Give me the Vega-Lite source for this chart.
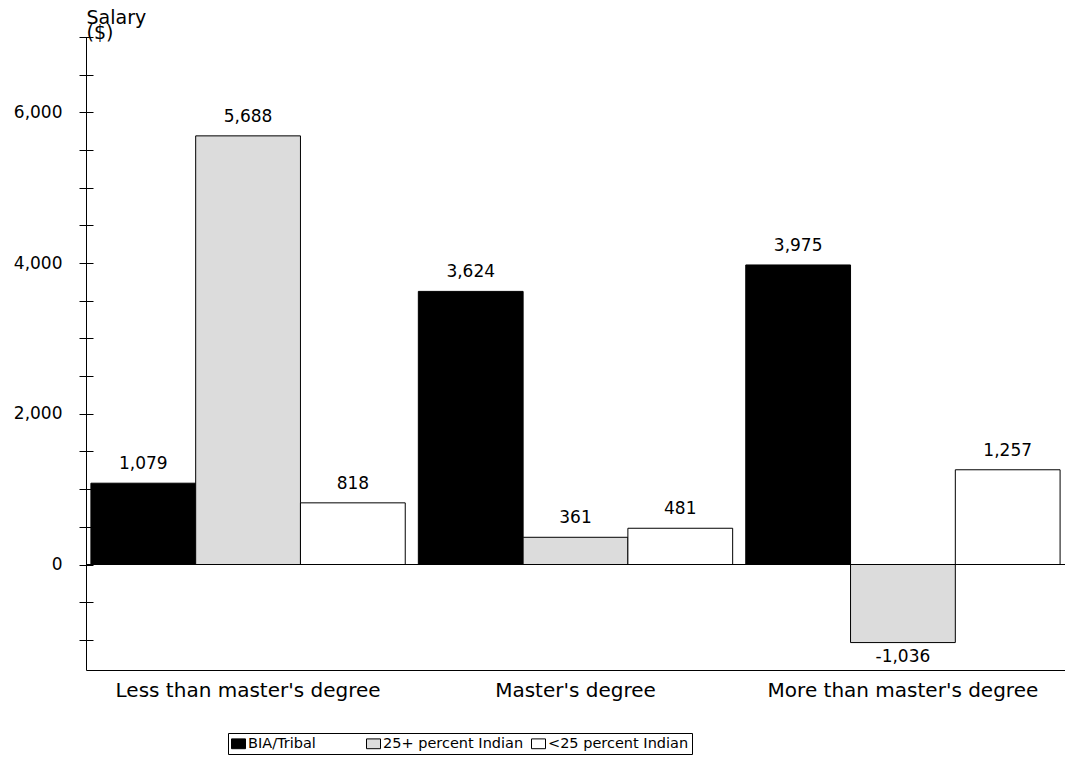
{
  "$schema": "https://vega.github.io/schema/vega-lite/v6.json",
  "width": 979,
  "height": 633,
  "autosize": {"type": "none"},
  "padding": {"left": 86, "top": 37, "right": 0, "bottom": 92},
  "background": "white",
  "config": {
    "view": {"stroke": null},
    "font": "DejaVu Sans",
    "locale": {"number": {"decimal": ".", "thousands": ",", "grouping": [3], "currency": ["$", ""], "minus": "-"}},
    "axis": {"labelColor": "black", "titleColor": "black", "domainColor": "black", "tickColor": "black", "grid": false}
  },
  "data": {
    "values": [
      {"degree": "Less than master's degree", "school": "BIA/Tribal", "value": 1079},
      {"degree": "Less than master's degree", "school": "25+ percent Indian", "value": 5688},
      {"degree": "Less than master's degree", "school": "<25 percent Indian", "value": 818},
      {"degree": "Master's degree", "school": "BIA/Tribal", "value": 3624},
      {"degree": "Master's degree", "school": "25+ percent Indian", "value": 361},
      {"degree": "Master's degree", "school": "<25 percent Indian", "value": 481},
      {"degree": "More than master's degree", "school": "BIA/Tribal", "value": 3975},
      {"degree": "More than master's degree", "school": "25+ percent Indian", "value": -1036},
      {"degree": "More than master's degree", "school": "<25 percent Indian", "value": 1257}
    ]
  },
  "layer": [
    {
      "mark": {"type": "bar", "stroke": "black", "strokeWidth": 1},
      "encoding": {
        "x": {
          "field": "degree", "type": "nominal",
          "sort": ["Less than master's degree", "Master's degree", "More than master's degree"],
          "scale": {"paddingInner": 0.04, "paddingOuter": 0.015},
          "axis": {"title": null, "labelAngle": 0, "ticks": false, "domain": true, "labelFontSize": 20, "labelPadding": 10, "labelLimit": 0}
        },
        "xOffset": {
          "field": "school", "type": "nominal",
          "sort": ["BIA/Tribal", "25+ percent Indian", "<25 percent Indian"],
          "scale": {"paddingInner": 0, "paddingOuter": 0}
        },
        "y": {
          "field": "value", "type": "quantitative",
          "scale": {"domain": [-1400, 7000], "nice": false, "zero": false},
          "axis": {
            "values": [0, 2000, 4000, 6000], "format": ",.0f", "ticks": false, "domain": true,
            "labelFontSize": 17, "labelPadding": 24,
            "title": ["Salary", "($)"], "titleAngle": 0, "titleAlign": "left", "titleBaseline": "alphabetic",
            "titleX": 0, "titleY": -14, "titleFontWeight": "normal", "titleFontSize": 19, "titleLineHeight": 15
          }
        },
        "fill": {
          "field": "school", "type": "nominal",
          "sort": ["BIA/Tribal", "25+ percent Indian", "<25 percent Indian"],
          "scale": {"domain": ["BIA/Tribal", "25+ percent Indian", "<25 percent Indian"], "range": ["black", "#dcdcdc", "white"]},
          "legend": {
            "title": null, "orient": "none", "legendX": 142, "legendY": 696, "direction": "horizontal",
            "strokeColor": "black", "padding": 3, "labelFontSize": 14.5, "labelColor": "black",
            "symbolType": "M-1,-0.7H1V0.7H-1Z", "symbolSize": 196, "symbolStrokeColor": "black", "symbolStrokeWidth": 1,
            "labelOffset": 2, "columnPadding": 5,
            "labelExpr": "datum.label == 'BIA/Tribal' ? 'BIA/Tribal\u2800\u2800\u2800\u2800' : datum.label"
          }
        }
      }
    },
    {
      "mark": {"type": "rule", "color": "black", "strokeWidth": 1},
      "encoding": {
        "y": {
          "datum": 0, "type": "quantitative",
          "axis": {
            "orient": "left", "values": [-1000, -500, 0, 500, 1000, 1500, 2000, 2500, 3000, 3500, 4000, 4500, 5000, 5500, 6000, 6500, 7000],
            "labels": false, "domain": false, "ticks": true, "tickSize": 14, "offset": -7, "title": null
          }
        }
      }
    },
    {
      "transform": [{"filter": "datum.value >= 0"}],
      "mark": {"type": "text", "baseline": "alphabetic", "dy": -14, "fontSize": 17, "color": "black"},
      "encoding": {
        "x": {"field": "degree", "type": "nominal", "sort": ["Less than master's degree", "Master's degree", "More than master's degree"]},
        "xOffset": {"field": "school", "type": "nominal", "sort": ["BIA/Tribal", "25+ percent Indian", "<25 percent Indian"]},
        "y": {"field": "value", "type": "quantitative"},
        "text": {"field": "value", "type": "quantitative", "format": ",.0f"}
      }
    },
    {
      "transform": [{"filter": "datum.value < 0"}],
      "mark": {"type": "text", "baseline": "top", "dy": 6, "fontSize": 17, "color": "black"},
      "encoding": {
        "x": {"field": "degree", "type": "nominal", "sort": ["Less than master's degree", "Master's degree", "More than master's degree"]},
        "xOffset": {"field": "school", "type": "nominal", "sort": ["BIA/Tribal", "25+ percent Indian", "<25 percent Indian"]},
        "y": {"field": "value", "type": "quantitative"},
        "text": {"field": "value", "type": "quantitative", "format": ",.0f"}
      }
    }
  ],
  "resolve": {"axis": {"y": "independent"}}
}
